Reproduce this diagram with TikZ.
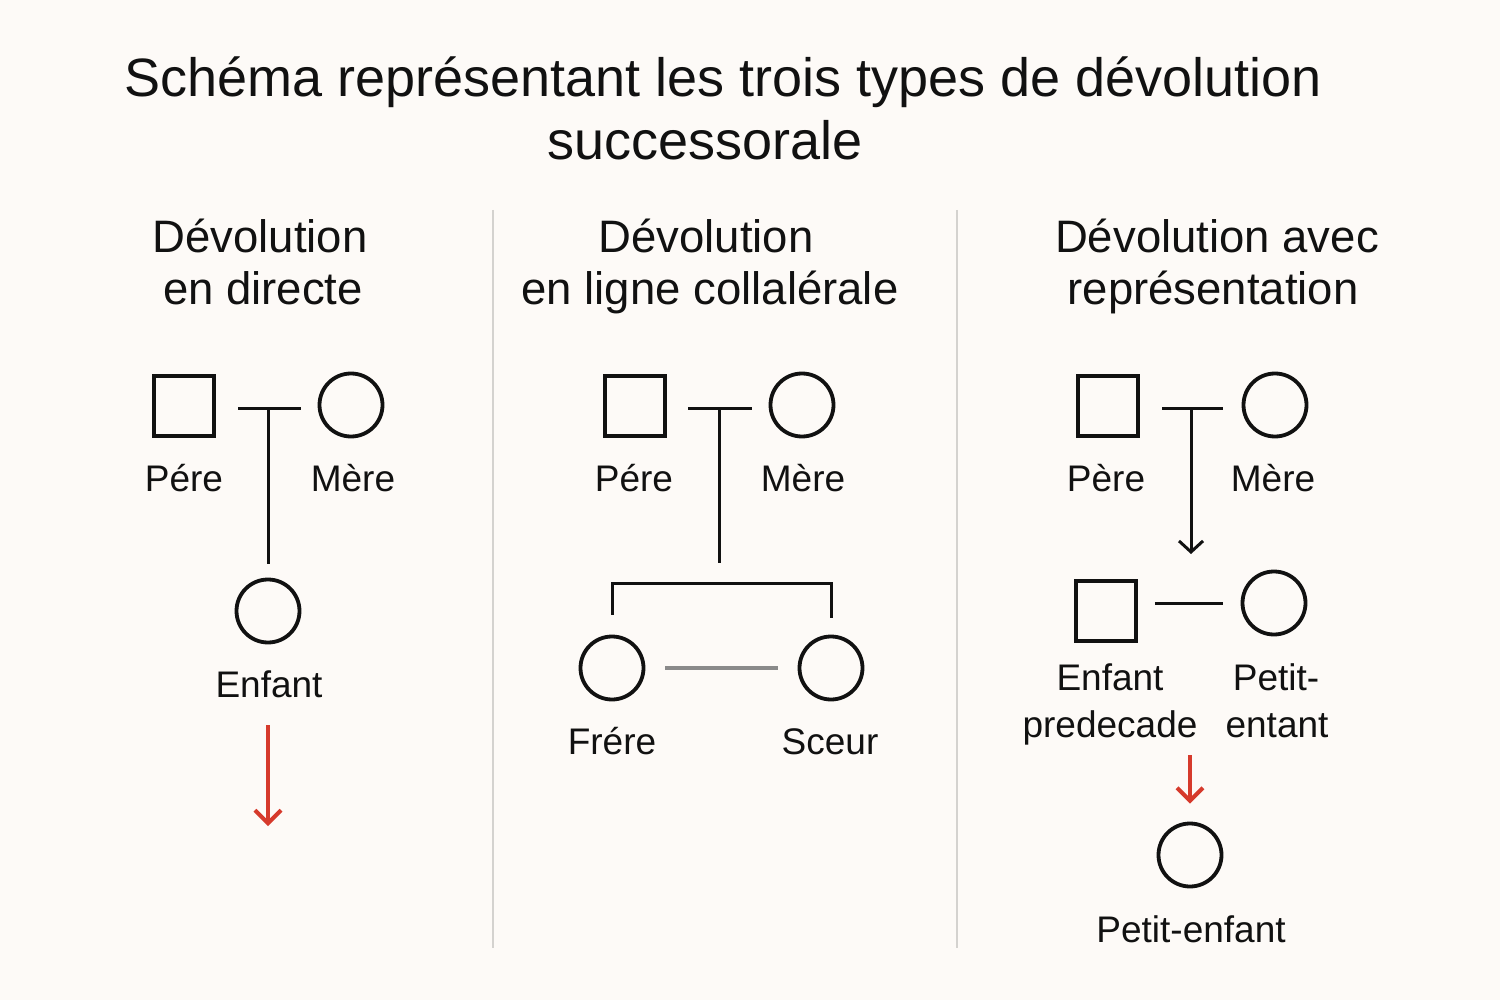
\documentclass[tikz,border=0pt]{standalone}
\usepackage{fontspec}
\setmainfont{Liberation Sans}
\usetikzlibrary{arrows.meta,calc}
\definecolor{bg}{HTML}{FDFAF7}
\definecolor{ink}{HTML}{111111}
\definecolor{redarrow}{HTML}{D63A2C}
\definecolor{sep}{HTML}{D4D2CF}
\definecolor{sibline}{HTML}{8A8A8A}
\tikzset{
  male/.style={draw=ink,line width=3.8pt,rectangle,minimum size=60pt,inner sep=0pt},
  female/.style={draw=ink,line width=3.8pt,circle,minimum size=63pt,inner sep=0pt},
  conn/.style={draw=ink,line width=3pt},
  redarr/.style={draw=redarrow,line width=4pt,-{Straight Barb[length=13pt,width=26pt,line width=4pt]}},
  blackarr/.style={draw=ink,line width=3pt,-{Straight Barb[length=11pt,width=24pt,line width=3pt]}},
  sepline/.style={draw=sep,line width=2pt},
  title/.style={anchor=base,inner sep=0pt,font=\fontsize{54}{64}\selectfont,text=ink},
  head/.style={anchor=base,inner sep=0pt,font=\fontsize{45.5}{54}\selectfont,text=ink},
  lbl/.style={anchor=base,inner sep=0pt,font=\fontsize{37}{44}\selectfont,text=ink},
}
\begin{document}
\begin{tikzpicture}[x=1pt,y=-1pt]
\fill[bg] (0,0) rectangle (1500,1000);
\useasboundingbox (0,0) rectangle (1500,1000);

% title
\node[title] (t1) at (723,97) {Schéma représentant les trois types de dévolution};
\node[title] (t2) at (705,160) {successorale};

% separators
\coordinate (s1a) at (493,210); \coordinate (s1b) at (493,948);
\coordinate (s2a) at (957,210); \coordinate (s2b) at (957,948);
\draw[sepline] (s1a) -- (s1b);
\draw[sepline] (s2a) -- (s2b);

% ---------- column 1 ----------
\node[head] (h1a) at (260,253) {Dévolution};
\node[head] (h1b) at (263,305) {en directe};
\node[male] (p1) at (184,406) {};
\node[female] (m1) at (351,405) {};
\node[lbl] (lp1) at (184,491) {Pére};
\node[lbl] (lm1) at (353,491) {Mère};
\coordinate (c1l) at (238,408); \coordinate (c1r) at (301,408); \coordinate (c1m) at (268,408);
\draw[conn] (c1l) -- (c1r);
\node[female] (e1) at (268,611) {};
\draw[conn,shorten >=14pt] (c1m) -- (e1.north);
\node[lbl] (le1) at (269,697) {Enfant};
\coordinate (a1s) at (268,725); \coordinate (a1e) at (268,826);
\draw[redarr] (a1s) -- (a1e);

% ---------- column 2 ----------
\node[head] (h2a) at (706,253) {Dévolution};
\node[head] (h2b) at (710,305) {en ligne collalérale};
\node[male] (p2) at (635,406) {};
\node[female] (m2) at (802,405) {};
\node[lbl] (lp2) at (634,491) {Pére};
\node[lbl] (lm2) at (803,491) {Mère};
\coordinate (c2l) at (688,408); \coordinate (c2r) at (752,408); \coordinate (c2m) at (719,408);
\coordinate (c2b) at (719,563);
\draw[conn] (c2l) -- (c2r);
\draw[conn] (c2m) -- (c2b);
\node[female] (f2) at (612,668) {};
\node[female] (s2) at (831,668) {};
\coordinate (b2l) at (612,583); \coordinate (b2r) at (831,583);
\draw[conn] ($(f2.north)+(0,-20)$) -- (b2l) -- (b2r) -- ($(s2.north)+(0,-17)$);
\draw[draw=sibline,line width=3.5pt,shorten <=20pt,shorten >=20pt] (f2.east) -- (s2.west);
\node[lbl] (lf2) at (612,754) {Frére};
\node[lbl] (ls2) at (830,754) {Sceur};

% ---------- column 3 ----------
\node[head] (h3a) at (1217,253) {Dévolution avec};
\node[head] (h3b) at (1213,305) {représentation};
\node[male] (p3) at (1108,406) {};
\node[female] (m3) at (1275,405) {};
\node[lbl] (lp3) at (1106,491) {Père};
\node[lbl] (lm3) at (1273,491) {Mère};
\coordinate (c3l) at (1162,408); \coordinate (c3r) at (1223,408); \coordinate (c3m) at (1191,408);
\coordinate (c3b) at (1191,554);
\draw[conn] (c3l) -- (c3r);
\draw[blackarr] (c3m) -- (c3b);
\node[male] (ep3) at (1106,611) {};
\node[female] (pe3) at (1274,603) {};
\draw[conn,shorten <=17pt,shorten >=18pt] (ep3.east|-pe3) -- (pe3.west);
\node[lbl] (lep3a) at (1110,690) {Enfant};
\node[lbl] (lep3b) at (1110,737) {predecade};
\node[lbl] (lpe3a) at (1276,690) {Petit-};
\node[lbl] (lpe3b) at (1277,737) {entant};
\node[female] (pf3) at (1190,855) {};
\coordinate (a3s) at (1190,755);
\draw[redarr,shorten >=18pt] (a3s) -- (pf3.north);
\node[lbl] (lpf3) at (1191,942) {Petit-enfant};
\end{tikzpicture}
\end{document}
